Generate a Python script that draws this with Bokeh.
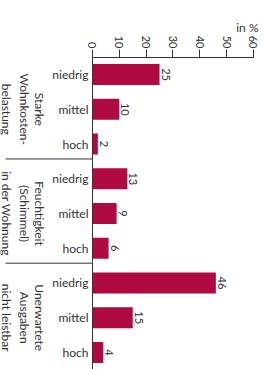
import math
from bokeh.plotting import figure
from bokeh.models import Range1d, LinearAxis, FixedTicker, Span, ColumnDataSource
from bokeh.core.properties import value
from bokeh.embed import file_html
from bokeh.resources import INLINE

group_lines = [["Starke", "Wohnkosten-", "belastung"],
               ["Feuchtigkeit", "(Schimmel)", "in der Wohnung"],
               ["Unerwartete", "Ausgaben", "nicht leistbar"]]
levels = ["niedrig", "mittel", "hoch"]
values = [25, 10, 2, 13, 9, 6, 46, 15, 4]
ticks = [0, 10, 20, 30, 40, 50, 60]
unit_label = "in %"

FONT = "Lato"
TXT = "#333333"
BAR = "#AF0A41"

rows = list(range(len(values)))
cats = [levels[i % 3] for i in rows]
src = ColumnDataSource(dict(y=rows, v=values, cat=cats, lab=[str(v) for v in values]))

p = figure(width=264, height=369, output_backend="svg", toolbar_location=None,
           x_range=Range1d(-34.3, 61.9), y_range=Range1d(8.49, -0.49),
           x_axis_location=None, y_axis_location=None,
           min_border_left=0, min_border_right=6, min_border_bottom=0, min_border_top=57,
           title=unit_label)
p.outline_line_color = None
p.xgrid.visible = False
p.ygrid.visible = False
p.title.align = "right"
p.title.standoff = -5
p.title.text_font = FONT
p.title.text_font_size = "12px"
p.title.text_font_style = "normal"
p.title.text_color = TXT

ax = LinearAxis(ticker=FixedTicker(ticks=ticks), bounds=(0, 60))
ax.major_label_orientation = -math.pi / 2
ax.major_label_text_font = FONT
ax.major_label_text_font_size = "11px"
ax.major_label_text_color = TXT
ax.axis_line_color = TXT
ax.major_tick_line_color = TXT
ax.major_tick_in = 0
ax.major_tick_out = 8
ax.minor_tick_line_color = None
ax.major_label_standoff = 1
p.add_layout(ax, "above")

p.hbar(y="y", right="v", left=0, height=0.6, source=src, fill_color=BAR, line_color=None)

p.add_layout(Span(location=0, dimension="height", line_color=TXT, line_width=1))

p.text(x="v", y="y", text="lab", source=src, angle=-math.pi / 2,
       text_align="center", text_baseline="bottom", x_offset=2,
       text_font=value(FONT), text_font_size="11px", text_color=TXT)

p.text(x=[-1.5] * len(rows), y=rows, text=cats, text_align="right", text_baseline="middle",
       text_font=value(FONT), text_font_size="12px", text_color=TXT)

line_x = [-19.75, -25.3, -31.9]
gx, gy, gt = [], [], []
for gi, lines in enumerate(group_lines):
    for li, t in enumerate(lines):
        gx.append(line_x[li])
        gy.append(gi * 3 + 1)
        gt.append(t)
p.text(x=gx, y=gy, text=gt, angle=-math.pi / 2,
       text_align="center", text_baseline="middle",
       text_font=value(FONT), text_font_size="12px", text_color=TXT)

p.segment(x0=[-32.4, -32.4], x1=[0, 0], y0=[2.43, 5.43], y1=[2.43, 5.43], line_color=TXT, line_width=1)

open("out.html", "w").write(file_html(p, INLINE))
